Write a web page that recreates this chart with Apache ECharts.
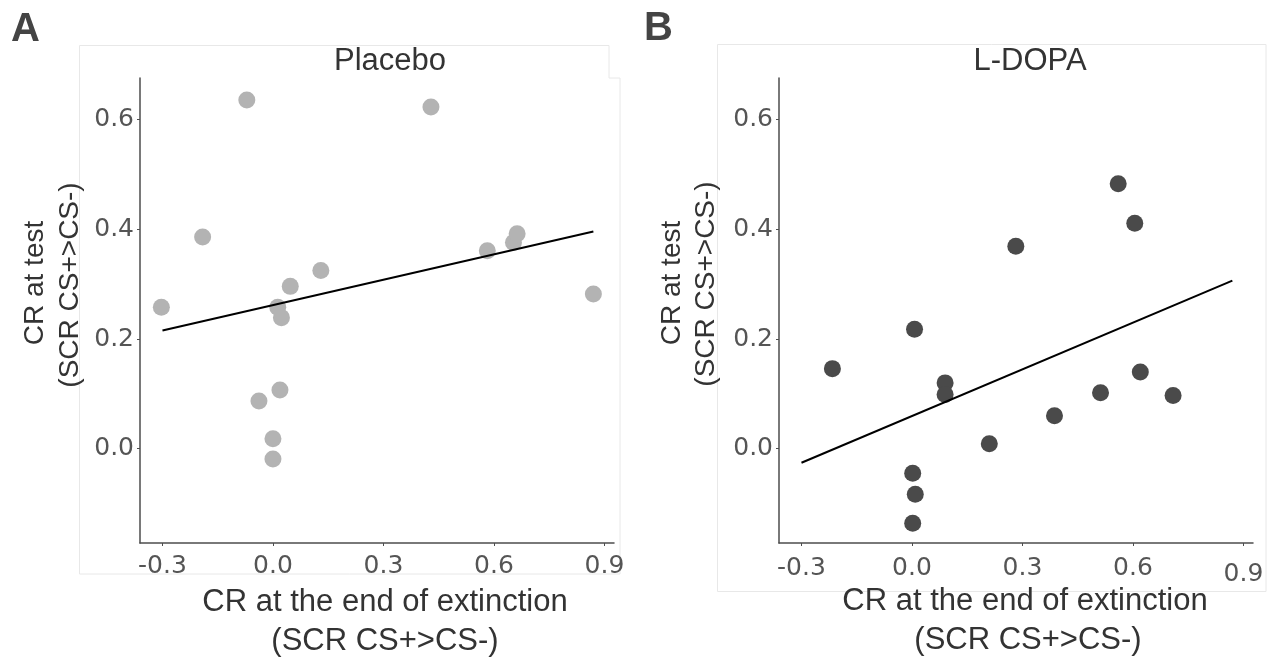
<!DOCTYPE html>
<html>
<head>
<meta charset="utf-8">
<script src="https://cdn.jsdelivr.net/npm/echarts@6/dist/echarts.min.js"></script>
<style>
  html, body { margin: 0; padding: 0; background: #ffffff; }
  #chart { width: 1274px; height: 657px; }
</style>
</head>
<body>
<div id="chart"></div>
<script>
// Conditioned response (SCR CS+>CS-) at the end of extinction (x) vs at test (y)
const placeboX = [-0.303, -0.191, -0.071, -0.038, 0.000, 0.000, 0.013, 0.023, 0.019, 0.047, 0.130, 0.429, 0.582, 0.653, 0.663, 0.870];
const placeboY = [0.258, 0.386, 0.636, 0.087, 0.018, -0.019, 0.258, 0.239, 0.107, 0.296, 0.325, 0.623, 0.361, 0.376, 0.392, 0.282];

const ldopaX = [-0.216, 0.007, 0.090, 0.090, 0.002, 0.009, 0.002, 0.210, 0.282, 0.387, 0.512, 0.560, 0.605, 0.620, 0.709];
const ldopaY = [0.146, 0.218, 0.120, 0.099, -0.045, -0.083, -0.136, 0.009, 0.369, 0.060, 0.102, 0.483, 0.411, 0.140, 0.097];

const xTicks = [-0.3, 0.0, 0.3, 0.6, 0.9];
const yTicks = [0.0, 0.2, 0.4, 0.6];

// x extent over which the fitted line is drawn
const fitSpan = [-0.3, 0.87];

const panelTitles = ['Placebo', 'L-DOPA'];
const panelLetters = ['A', 'B'];
const xTitleLines = ['CR at the end of extinction', '(SCR CS+>CS-)'];
const yTitleLines = ['CR at test', '(SCR CS+>CS-)'];

// ordinary least-squares line evaluated at the ends of fitSpan
function fitLine(xs, ys) {
  const n = xs.length;
  const mx = xs.reduce((a, b) => a + b, 0) / n;
  const my = ys.reduce((a, b) => a + b, 0) / n;
  let sxy = 0, sxx = 0;
  for (let i = 0; i < n; i++) {
    sxy += (xs[i] - mx) * (ys[i] - my);
    sxx += (xs[i] - mx) * (xs[i] - mx);
  }
  const slope = sxy / sxx;
  const icpt = my - slope * mx;
  return fitSpan.map(x => [x, icpt + slope * x]);
}

const pairs = (xs, ys) => xs.map((x, i) => [x, ys[i]]);

const TEXT = '#333333';
const TICK = '#555555';
const AXIS = '#4d4d4d';
const SANS = '"Liberation Sans", Arial, sans-serif';
const TICKFONT = '"DejaVu Sans", sans-serif';

function xAxisFor(gridIndex, lowLast) {
  return {
    type: 'value', gridIndex: gridIndex,
    min: -0.361, max: 0.926,
    axisLine: { show: true, onZero: false, lineStyle: { color: AXIS, width: 1.5 } },
    axisTick: { show: true, customValues: xTicks, length: 3, lineStyle: { color: AXIS, width: 1 } },
    axisLabel: {
      customValues: xTicks,
      margin: lowLast ? 13 : 11,
      color: TICK, fontFamily: TICKFONT, fontSize: 25,
      formatter: v => (lowLast && Math.abs(v - 0.9) < 1e-9) ? '{lo|' + v.toFixed(1) + '}' : v.toFixed(1),
      rich: { lo: { padding: [6, 0, 0, 0], color: TICK, fontFamily: TICKFONT, fontSize: 25 } }
    },
    splitLine: { show: false }
  };
}

function yAxisFor(gridIndex) {
  return {
    type: 'value', gridIndex: gridIndex,
    min: -0.172, max: 0.676,
    axisLine: { show: true, onZero: false, lineStyle: { color: AXIS, width: 1.5 } },
    axisTick: { show: true, customValues: yTicks, length: 3, lineStyle: { color: AXIS, width: 1 } },
    axisLabel: {
      customValues: yTicks, margin: 6,
      color: TICK, fontFamily: TICKFONT, fontSize: 25,
      formatter: v => v.toFixed(1)
    },
    splitLine: { show: false }
  };
}

function textEl(str, x, y, opts) {
  return Object.assign({
    type: 'text', x: x, y: y, silent: true,
    style: Object.assign({
      text: str, fill: TEXT, font: '28px ' + SANS,
      textAlign: 'center', textVerticalAlign: 'middle'
    }, opts.style || {})
  }, opts.el || {});
}

const graphics = [
  // light panel frames
  { type: 'polyline', silent: true, z: -10,
    shape: { points: [[79.5, 574], [79.5, 45.5], [609, 45.5], [609, 78], [620, 78], [620, 574], [79.5, 574]] },
    style: { stroke: '#e8e8e8', lineWidth: 1, fill: null } },
  { type: 'rect', silent: true, z: -10,
    shape: { x: 717.5, y: 44.5, width: 548.5, height: 547 },
    style: { stroke: '#e8e8e8', lineWidth: 1, fill: null } },

  // panel letters
  textEl(panelLetters[0], 11, 30, { style: { font: 'bold 40px ' + SANS, fill: '#444444', textAlign: 'left' } }),
  textEl(panelLetters[1], 644, 29, { style: { font: 'bold 40px ' + SANS, fill: '#444444', textAlign: 'left' } }),

  // panel titles
  textEl(panelTitles[0], 390, 61, { style: { font: '31px ' + SANS } }),
  textEl(panelTitles[1], 1030, 61, { style: { font: '31px ' + SANS } }),

  // x-axis titles
  textEl(xTitleLines[0], 385, 602, { style: { font: '31px ' + SANS } }),
  textEl(xTitleLines[1], 385, 641, { style: { font: '31px ' + SANS } }),
  textEl(xTitleLines[0], 1025, 601, { style: { font: '31px ' + SANS } }),
  textEl(xTitleLines[1], 1028, 640, { style: { font: '31px ' + SANS } }),

  // y-axis titles (rotated)
  textEl(yTitleLines[0], 35, 283, { style: { font: '28px ' + SANS }, el: { rotation: Math.PI / 2 } }),
  textEl(yTitleLines[1], 70, 285, { style: { font: '28px ' + SANS }, el: { rotation: Math.PI / 2 } }),
  textEl(yTitleLines[0], 672, 283, { style: { font: '28px ' + SANS }, el: { rotation: Math.PI / 2 } }),
  textEl(yTitleLines[1], 706, 284, { style: { font: '28px ' + SANS }, el: { rotation: Math.PI / 2 } })
];

const chart = echarts.init(document.getElementById('chart'), null, { renderer: 'canvas' });
chart.setOption({
  animation: false,
  backgroundColor: '#ffffff',
  grid: [
    { left: 140, top: 78, width: 474, height: 465, containLabel: false },
    { left: 779, top: 78, width: 474, height: 465, containLabel: false }
  ],
  xAxis: [xAxisFor(0, false), xAxisFor(1, true)],
  yAxis: [yAxisFor(0), yAxisFor(1)],
  series: [
    { name: panelTitles[0], type: 'scatter', xAxisIndex: 0, yAxisIndex: 0,
      data: pairs(placeboX, placeboY), symbol: 'circle', symbolSize: 17,
      itemStyle: { color: '#b3b3b3', opacity: 1 }, z: 2 },
    { name: panelTitles[0] + ' fit', type: 'line', xAxisIndex: 0, yAxisIndex: 0,
      data: fitLine(placeboX, placeboY), showSymbol: false,
      lineStyle: { color: '#000000', width: 2 }, z: 3 },
    { name: panelTitles[1], type: 'scatter', xAxisIndex: 1, yAxisIndex: 1,
      data: pairs(ldopaX, ldopaY), symbol: 'circle', symbolSize: 17,
      itemStyle: { color: '#4a4a4a', opacity: 1 }, z: 2 },
    { name: panelTitles[1] + ' fit', type: 'line', xAxisIndex: 1, yAxisIndex: 1,
      data: fitLine(ldopaX, ldopaY), showSymbol: false,
      lineStyle: { color: '#000000', width: 2 }, z: 3 }
  ],
  graphic: graphics
});
</script>
</body>
</html>
